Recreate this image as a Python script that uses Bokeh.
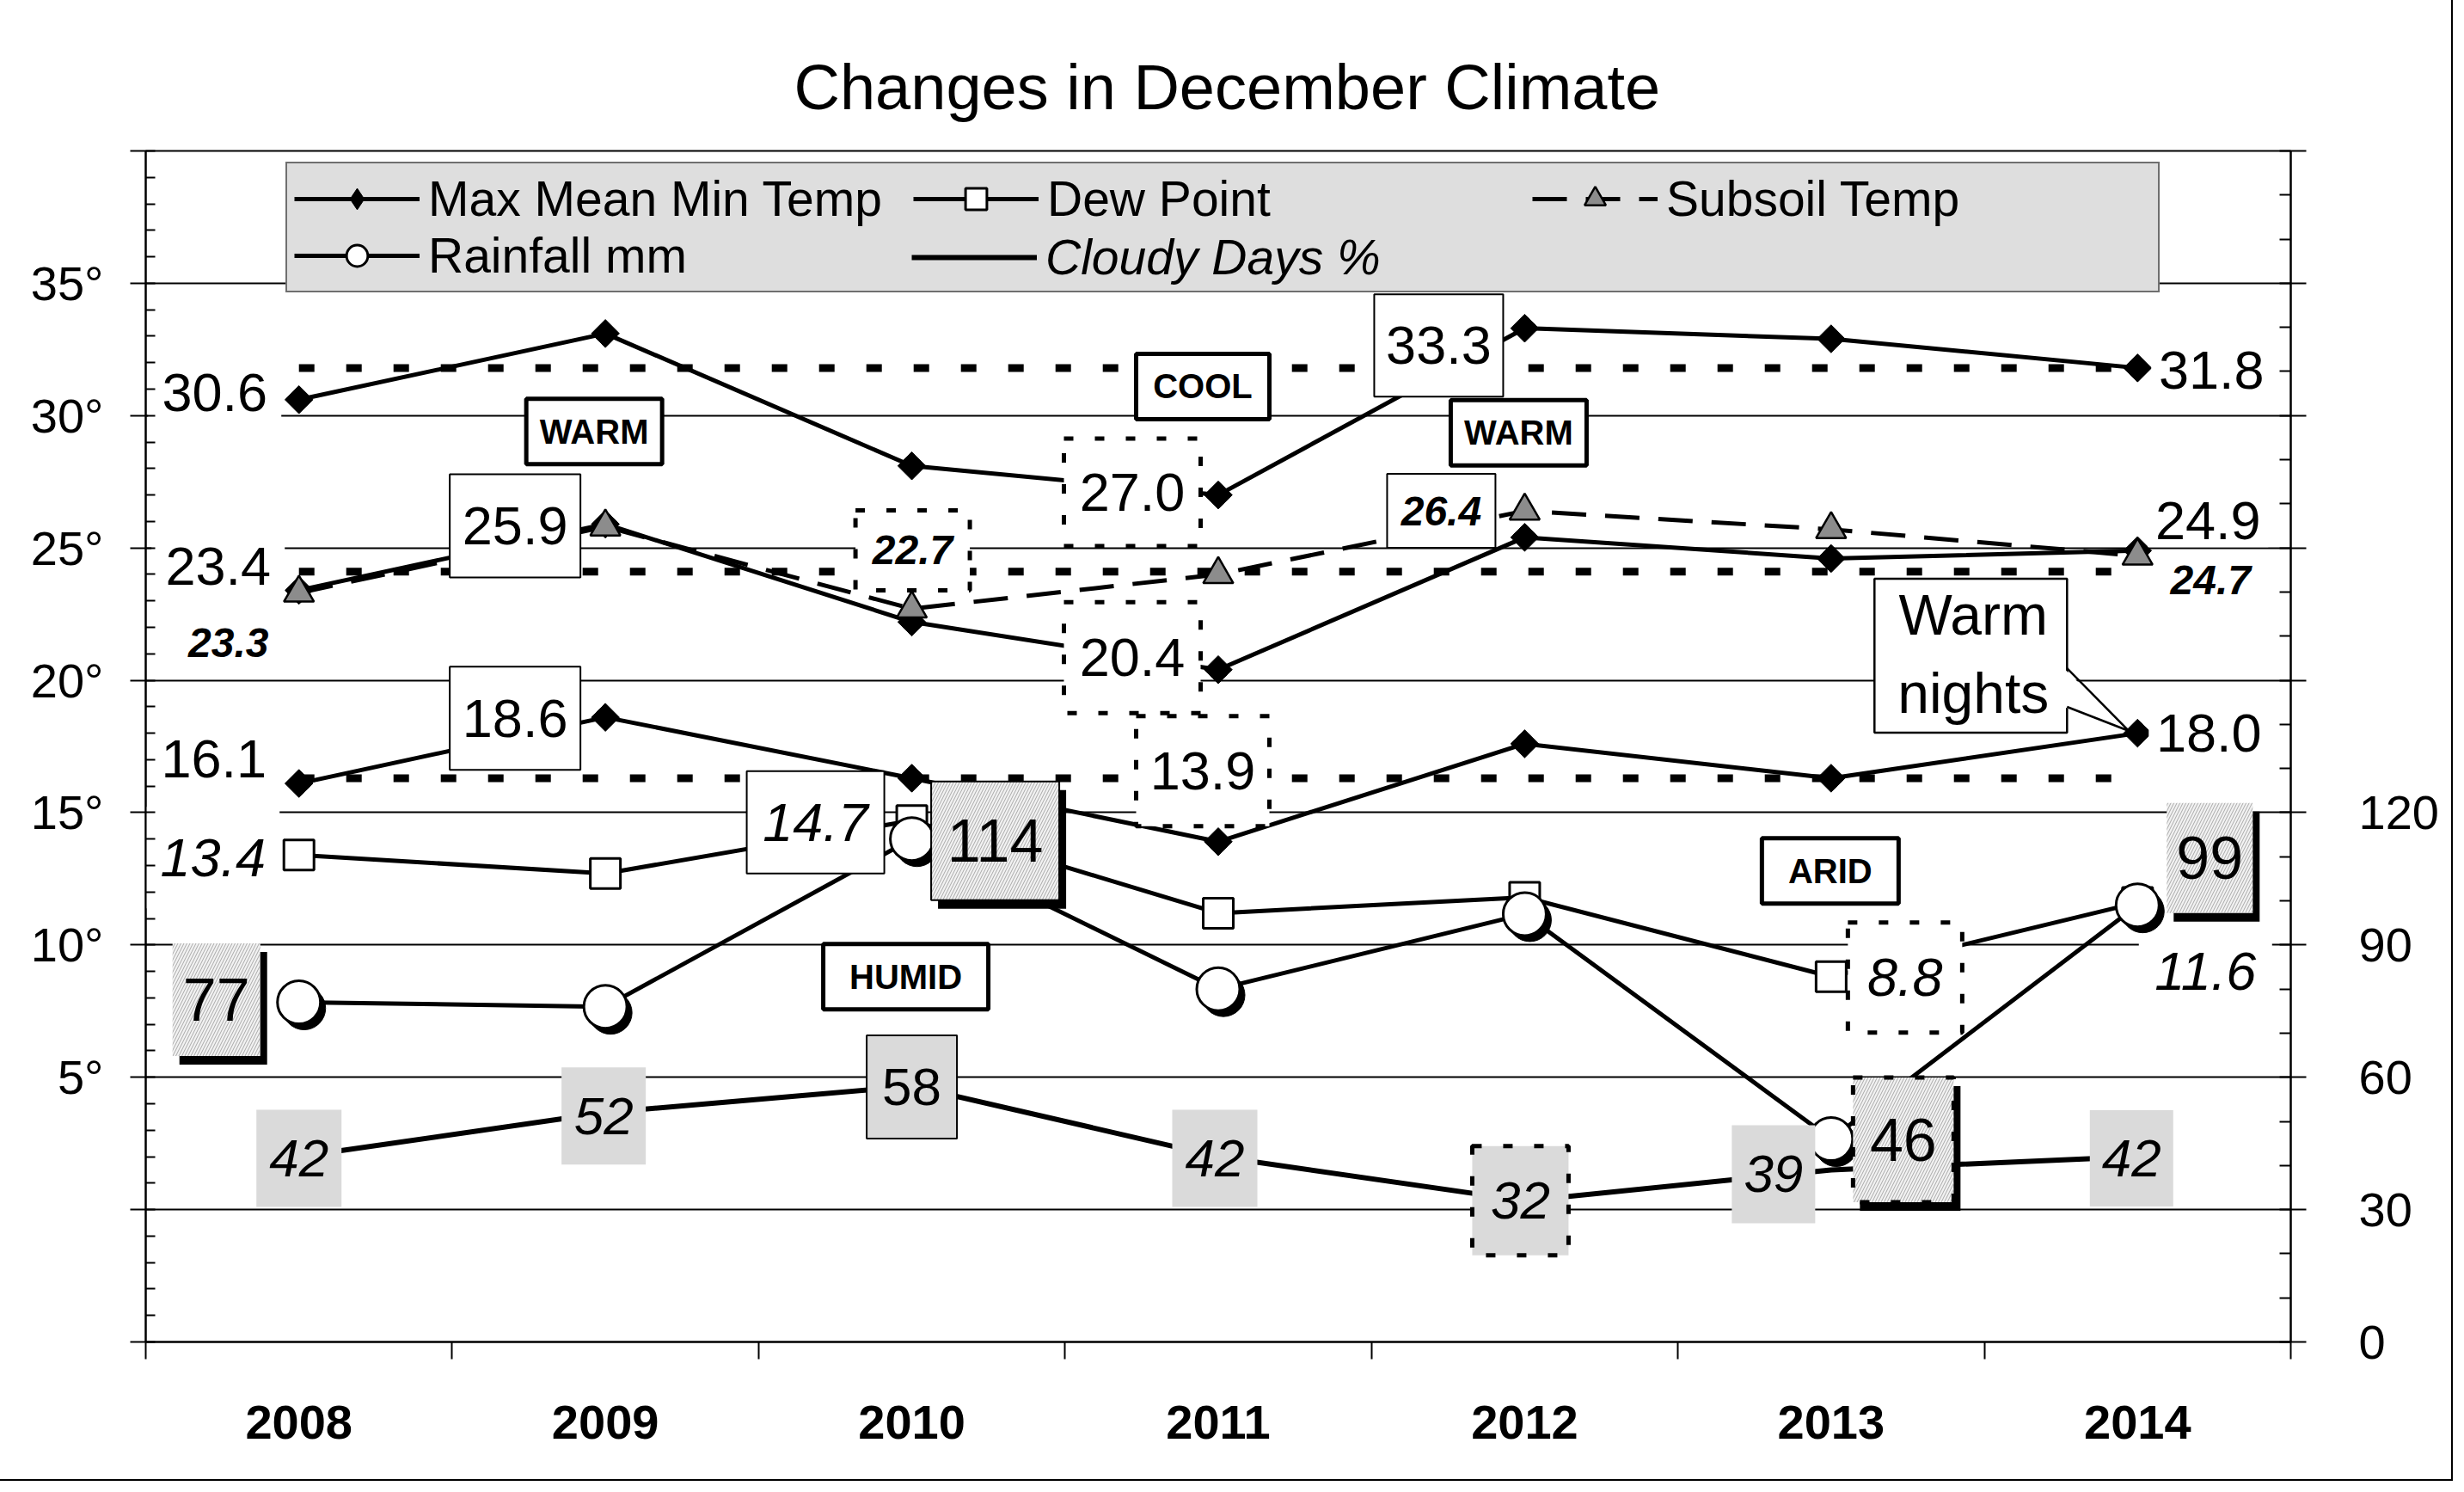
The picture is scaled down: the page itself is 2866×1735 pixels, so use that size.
import math
from bokeh.plotting import figure
from bokeh.models import Range1d, LinearAxis, FixedTicker, Legend, LegendItem
from bokeh.core.properties import value
from bokeh.embed import file_html
from bokeh.resources import INLINE

# ---------------- data ----------------
years = [2008, 2009, 2010, 2011, 2012, 2013, 2014]
max_temp = [30.6, 33.1, 28.1, 27.0, 33.3, 32.9, 31.8]
mean_temp = [23.4, 25.9, 22.2, 20.4, 25.4, 24.6, 24.9]
min_temp = [16.1, 18.6, 16.3, 13.9, 17.6, 16.3, 18.0]
dew_point = [13.4, 12.7, 14.7, 11.2, 11.8, 8.8, 11.6]
subsoil_temp = [23.3, 25.8, 22.7, 24.0, 26.4, 25.7, 24.7]
rainfall_mm = [77, 76, 114, 80, 97, 46, 99]
cloudy_days = [42, 52, 58, 42, 32, 39, 42]
avg_max = 31.8
avg_mean = 24.1
avg_min = 16.3

temp_ticks = [-5, 0, 5, 10, 15, 20, 25, 30, 35, 40]
temp_tick_labels = ["", "", "5°", "10°", "15°", "20°", "25°", "30°", "35°", ""]
right_ticks = [0, 30, 60, 90, 120, 150, 180, 210, 240, 270]
right_tick_labels = ["0", "30", "60", "90", "120", "", "", "", "", ""]
year_labels = ["2008", "2009", "2010", "2011", "2012", "2013", "2014"]

title_text = "Changes in December Climate"
legend_labels = ["Max Mean Min Temp", "Dew Point", "Subsoil Temp", "Rainfall mm", "Cloudy Days %"]
tags = [("WARM", 2009, -13, 29.4), ("COOL", 2011, -18, 31.1), ("WARM", 2012, -7, 29.35),
        ("HUMID", 2010, -7, 8.8), ("ARID", 2013, -1, 12.8)]
callout_text = "Warm\nnights"

# ---------------- layout ----------------
W, H = 2850, 1719
FL, FR, FT, FB = 169, 2664, 175, 1560
FRAME_W = FR - FL
FRAME_H = FB - FT
PX_YEAR = FRAME_W / 7.0
PX_DEG = FRAME_H / 45.0
PX_R = FRAME_H / 270.0
FONT = value("Liberation Sans")

p = figure(width=W, height=H, output_backend="svg", toolbar_location=None,
           x_range=Range1d(2007.5, 2014.5), y_range=Range1d(-5, 40),
           min_border_left=FL, min_border_right=W - FR,
           min_border_top=FT, min_border_bottom=H - FB)
p.extra_y_ranges = {"right": Range1d(0, 270)}
p.background_fill_color = "white"
p.border_fill_color = "white"
p.outline_line_color = "black"
p.outline_line_width = 2
p.styles = {"outline": "2px solid black", "outline-offset": "1px"}

p.title.text = title_text
p.title.text_font = "Liberation Sans"
p.title.text_font_size = "74px"
p.title.text_font_style = "normal"
p.title.text_color = "black"
p.title.align = "left"
p.title.offset = 754
p.title.standoff = 66

# grid
p.xgrid.visible = False
p.ygrid.ticker = FixedTicker(ticks=temp_ticks)
p.ygrid.grid_line_color = "black"
p.ygrid.grid_line_width = 2

# left axis
ya = p.yaxis[0]
ya.ticker = FixedTicker(ticks=temp_ticks, minor_ticks=list(range(-5, 41)))
ya.major_label_overrides = dict(zip(temp_ticks, temp_tick_labels))
ya.major_tick_out = 18
ya.major_tick_in = 0
ya.minor_tick_in = 11
ya.minor_tick_out = 0
ya.axis_line_width = 2
ya.major_tick_line_width = 2
ya.minor_tick_line_width = 2
ya.major_label_standoff = 31
ya.major_label_text_font = "Liberation Sans"
ya.major_label_text_font_size = "56px"
ya.major_label_text_color = "black"

# right axis
ra = LinearAxis(y_range_name="right",
                ticker=FixedTicker(ticks=right_ticks, minor_ticks=list(range(0, 271, 10))))
ra.major_label_overrides = dict(zip(right_ticks, right_tick_labels))
ra.major_tick_out = 18
ra.major_tick_in = 0
ra.minor_tick_in = 13
ra.minor_tick_out = 0
ra.axis_line_width = 2
ra.major_tick_line_width = 2
ra.minor_tick_line_width = 2
ra.major_label_standoff = 61
ra.major_label_text_font = "Liberation Sans"
ra.major_label_text_font_size = "56px"
ra.major_label_text_color = "black"
p.add_layout(ra, "right")

# bottom axis
xa = p.xaxis[0]
bounds = [y - 0.5 for y in years] + [years[-1] + 0.5]
xa.ticker = FixedTicker(ticks=years, minor_ticks=bounds)
xa.major_label_overrides = dict(zip(years, year_labels))
xa.major_tick_in = 0
xa.major_tick_out = 0
xa.minor_tick_in = 0
xa.minor_tick_out = 20
xa.axis_line_width = 2
xa.minor_tick_line_width = 2
xa.major_label_standoff = 54
xa.major_label_text_font = "Liberation Sans"
xa.major_label_text_font_size = "56px"
xa.major_label_text_font_style = "bold"
xa.major_label_text_color = "black"

# ---------------- reference (average) lines ----------------
for a in (avg_max, avg_mean, avg_min):
    p.line([years[0], years[-1]], [a, a], line_color="black", line_width=9, line_dash="18 37")

# ---------------- series ----------------
LW = 5
temp_renderers = []
for vals in (max_temp, mean_temp, min_temp):
    rl = p.line(years, vals, line_color="black", line_width=LW)
    rp = p.scatter(years, vals, marker="square", angle=math.pi / 4, size=23,
                   fill_color="black", line_color="black")
    temp_renderers.append((rl, rp))
# diamond used only for the legend swatch (legend swatches ignore marker angle)
r_leg_diamond = p.scatter(years, max_temp, marker="diamond", size=32,
                          fill_color="black", line_color="black", visible=False)

r_dew_l = p.line(years, dew_point, line_color="black", line_width=LW)
r_dew_p = p.scatter(years, dew_point, marker="square", size=35, fill_color="white",
                    line_color="black", line_width=3)

r_soil_l = p.line(years, subsoil_temp, line_color="black", line_width=LW, line_dash="40 22")
r_soil_p = p.scatter(years, subsoil_temp, marker="triangle", size=35, fill_color="#8c8c8c",
                     line_color="black", line_width=2.5)

r_rain_l = p.line(years, rainfall_mm, line_color="black", line_width=LW, y_range_name="right")
shadow_x = [y + 6 / PX_YEAR for y in years]
shadow_y = [v - 7 / PX_R for v in rainfall_mm]
p.scatter(shadow_x, shadow_y, marker="circle", size=50, fill_color="black",
          line_color="black", y_range_name="right")
r_rain_p = p.scatter(years, rainfall_mm, marker="circle", size=50, fill_color="white",
                     line_color="black", line_width=3, y_range_name="right")

r_cloud_l = p.line(years, cloudy_days, line_color="black", line_width=6, y_range_name="right")

# ---------------- label boxes ----------------
temp_series = {"max": max_temp, "mean": mean_temp, "min": min_temp,
               "dew": dew_point, "soil": subsoil_temp}

# (series, index, dx, dy, box w, box h, box style, font style)
value_labels = [
    ("max", 0, -98, -8, 155, 64, "plain", "reg"),
    ("mean", 0, -94, -28, 155, 60, "plain", "reg"),
    ("min", 0, -99, -29, 155, 60, "plain", "reg"),
    ("soil", 0, -82, 58, 110, 50, "plain", "bi"),
    ("dew", 0, -100, 3, 155, 118, "plain", "it"),
    ("mean", 1, -105, 2, 152, 120, "thin", "reg"),
    ("min", 1, -105, 1, 152, 120, "thin", "reg"),
    ("soil", 2, 1, -68, 133, 93, "dot", "bi"),
    ("dew", 2, -112, 2, 160, 119, "thin", "it"),
    ("max", 3, -100, -3, 159, 125, "dot", "reg"),
    ("mean", 3, -100, -14, 159, 129, "dot", "reg"),
    ("min", 3, -18, -82, 155, 128, "dot", "reg"),
    ("max", 4, -100, 20, 150, 119, "thin", "reg"),
    ("soil", 4, -97, 0, 126, 86, "thin", "bi"),
    ("dew", 5, 86, 1, 133, 128, "dot", "it"),
    ("max", 6, 86, 3, 140, 62, "plain", "reg"),
    ("mean", 6, 82, -35, 140, 62, "plain", "reg"),
    ("soil", 6, 85, 28, 110, 50, "plain", "bi"),
    ("min", 6, 83, 0, 140, 62, "plain", "reg"),
    ("dew", 6, 79, 80, 155, 80, "plain", "it"),
]
# (index, dx, dy, w, h, border)
rain_labels = [(0, -96, -3, 102, 131, None), (2, 97, 2, 149, 138, "thin"),
               (5, 84, 1, 117, 145, "dot"), (6, 84, -55, 100, 128, None)]
# (index, dx, dy, w, h, border, italic)
cloud_labels = [(0, 0, 2, 99, 113, None, True), (1, -2, 4, 98, 113, None, True),
                (2, 0, 1, 105, 120, "thin", False), (3, -4, 2, 99, 113, None, True),
                (4, -5, 0, 112, 127, "dot", True), (5, -67, 5, 97, 114, None, True),
                (6, -7, 2, 97, 112, None, True)]

border_styles = {
    None: dict(line_color=None),
    "plain": dict(line_color=None),
    "thin": dict(line_color="black", line_width=2),
    "dot": dict(line_color="black", line_width=5, line_dash="11 25"),
    "tag": dict(line_color="black", line_width=5),
}
font_styles = {"reg": ("63px", "normal"), "it": ("63px", "italic"), "bi": ("48px", "bold italic")}


def boxes(xs, ys, ws, hs, rng=None, **style):
    kw = {"y_range_name": rng} if rng else {}
    p.rect(x=xs, y=ys, width=ws, height=hs, width_units="screen", height_units="screen",
           **style, **kw)


def texts(xs, ys, tx, size, fstyle, rng=None, **extra):
    kw = {"y_range_name": rng} if rng else {}
    p.text(x=xs, y=ys, text=tx, text_font=FONT, text_font_size=size, text_font_style=fstyle,
           text_align="center", text_baseline="middle", text_color="black", **extra, **kw)


# temperature value labels
for bst in ("plain", "thin", "dot"):
    sel = [l for l in value_labels if l[6] == bst]
    if sel:
        boxes([years[l[1]] + l[2] / PX_YEAR for l in sel],
              [temp_series[l[0]][l[1]] - l[3] / PX_DEG for l in sel],
              [l[4] for l in sel], [l[5] for l in sel],
              fill_color="white", **border_styles[bst])
for fk, (fs, fst) in font_styles.items():
    sel = [l for l in value_labels if l[7] == fk]
    texts([years[l[1]] + l[2] / PX_YEAR for l in sel],
          [temp_series[l[0]][l[1]] - l[3] / PX_DEG for l in sel],
          ["%.1f" % temp_series[l[0]][l[1]] for l in sel], fs, fst)

# rainfall labels: shadow, hatched box, text
boxes([years[l[0]] + (l[1] + 8) / PX_YEAR for l in rain_labels],
      [rainfall_mm[l[0]] - (l[2] + 10) / PX_R for l in rain_labels],
      [l[3] for l in rain_labels], [l[4] for l in rain_labels], rng="right",
      fill_color="black", line_color=None)
for bst in (None, "thin", "dot"):
    sel = [l for l in rain_labels if l[5] == bst]
    boxes([years[l[0]] + l[1] / PX_YEAR for l in sel],
          [rainfall_mm[l[0]] - l[2] / PX_R for l in sel],
          [l[3] for l in sel], [l[4] for l in sel], rng="right",
          fill_color="#f2f2f2", hatch_pattern="/", hatch_color="#a8a8a8",
          hatch_scale=7, hatch_weight=1.0, **border_styles[bst])
texts([years[l[0]] + l[1] / PX_YEAR for l in rain_labels],
      [rainfall_mm[l[0]] - l[2] / PX_R for l in rain_labels],
      [str(rainfall_mm[l[0]]) for l in rain_labels], "70px", "normal", rng="right")

# cloudy-day labels
for bst in (None, "thin", "dot"):
    sel = [l for l in cloud_labels if l[5] == bst]
    boxes([years[l[0]] + l[1] / PX_YEAR for l in sel],
          [cloudy_days[l[0]] - l[2] / PX_R for l in sel],
          [l[3] for l in sel], [l[4] for l in sel], rng="right",
          fill_color="#dadada", **border_styles[bst])
for ital in (True, False):
    sel = [l for l in cloud_labels if l[6] == ital]
    texts([years[l[0]] + l[1] / PX_YEAR for l in sel],
          [cloudy_days[l[0]] - l[2] / PX_R for l in sel],
          [str(cloudy_days[l[0]]) for l in sel], "62px", "italic" if ital else "normal",
          rng="right")

# climate tags
tag_w = {"WARM": 158, "COOL": 155, "HUMID": 192, "ARID": 159}
boxes([t[1] + t[2] / PX_YEAR for t in tags], [t[3] for t in tags],
      [tag_w[t[0]] for t in tags], [76 for t in tags],
      fill_color="white", **border_styles["tag"])
texts([t[1] + t[2] / PX_YEAR for t in tags], [t[3] for t in tags],
      [t[0] for t in tags], "40px", "bold")

# "Warm nights" callout pointing at the 2014 minimum
ax, ay = years[6], min_temp[6]
cx, cy = ax - 194 / PX_YEAR, ay + 90 / PX_DEG
boxes([cx], [cy], [224], [179], fill_color="white", line_color="black", line_width=2.5)
wx = [ax - 86 / PX_YEAR, ax - 10 / PX_YEAR, ax - 86 / PX_YEAR]
wy = [ay + 75.6 / PX_DEG, ay + 2.6 / PX_DEG, ay + 30.6 / PX_DEG]
p.patch(wx, wy, fill_color="white", line_color=None)
p.line([ax - 82 / PX_YEAR, ax - 10 / PX_YEAR, ax - 82 / PX_YEAR], wy,
       line_color="black", line_width=2.5)
texts([ax - 191 / PX_YEAR], [ay + 92 / PX_DEG], [callout_text], "66px", "normal",
      text_line_height=1.24)

# ---------------- legend ----------------
PAD = 8
ITEM_W = 720
LEG_X, LEG_Y = 163, FRAME_H - 7 - 146 - 12
common = dict(padding=PAD, spacing=0, margin=0, glyph_width=146, glyph_height=62,
              label_height=62, label_width=ITEM_W - 156, label_standoff=10,
              label_text_font="Liberation Sans", label_text_font_size="57px",
              label_text_color="black", label_text_baseline="middle")
leg1 = Legend(items=[
    LegendItem(label=legend_labels[0], renderers=[temp_renderers[0][0], r_leg_diamond]),
    LegendItem(label=legend_labels[1], renderers=[r_dew_l, r_dew_p]),
    LegendItem(label=legend_labels[2], renderers=[r_soil_l, r_soil_p]),
    LegendItem(label=legend_labels[3], renderers=[r_rain_l, r_rain_p]),
], location=(LEG_X, LEG_Y), orientation="horizontal", ncols=3,
    background_fill_color="#dedede", background_fill_alpha=1.0,
    border_line_color="black", border_line_width=2, **common)
p.add_layout(leg1)
leg2 = Legend(items=[LegendItem(label=legend_labels[4], renderers=[r_cloud_l])],
              location=(LEG_X + PAD + ITEM_W, LEG_Y + PAD),
              background_fill_alpha=0.0, border_line_alpha=0.0,
              label_text_font_style="italic", **{**common, "padding": 0})
p.add_layout(leg2)

open("out.html", "w").write(file_html(p, INLINE))
